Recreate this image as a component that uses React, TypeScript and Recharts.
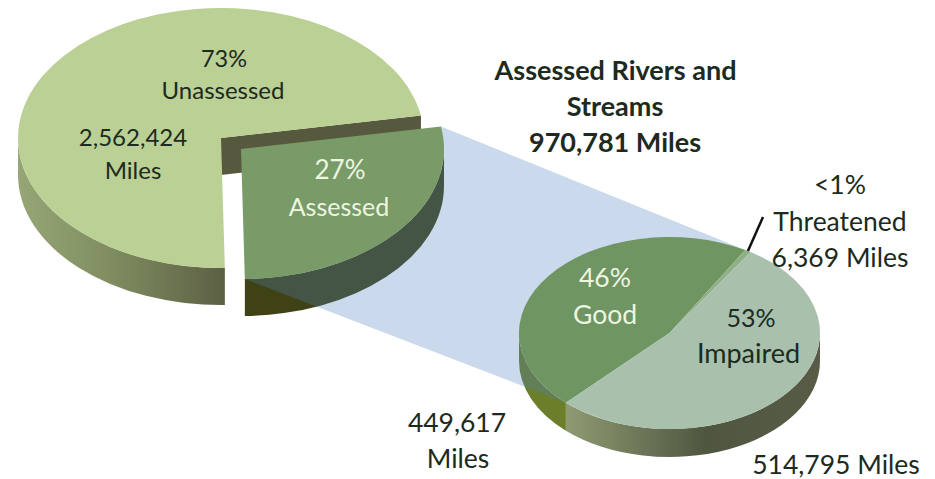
import { PieChart, Pie } from 'recharts'

const overallNames = ['Assessed', 'Unassessed']
const overallMiles = [970781, 2562424]
const assessedNames = ['Good', 'Threatened', 'Impaired']
const assessedMiles = [449617, 6369, 514795]

const overallData = overallNames.map((name, i) => ({ name, miles: overallMiles[i] }))
const assessedData = assessedNames.map((name, i) => ({ name, miles: assessedMiles[i] }))

const FONT = 'Lato, sans-serif'
const DARK = '#1c2a20'
const LIGHT = '#eef6e2'

const BIG = { cx: 221, cy: 138, rx: 203, ry: 130, depth: 37, start: 10 }
const SMALL = { cx: 669.5, cy: 333, rx: 150.5, ry: 96, depth: 28, start: 226.5 }
// the pulled-out slice of the big pie
const EXPLODE = { x: 20, y: 11 }

const TOP_FILL: Record<string, string> = {
  Unassessed: '#bad094',
  Assessed: '#789b67',
  Good: '#6f9562',
  Threatened: '#8eb184',
  Impaired: '#a8c0ac',
}
const WALL_FILL: Record<string, string> = {
  Unassessed: 'url(#wallUnassessed)',
  Assessed: '#3f4214',
  Good: '#6b7f2b',
  Threatened: '#59603f',
  Impaired: 'url(#wallImpaired)',
}

type Disc = typeof BIG

const pointAt = (d: Disc, angle: number, dx = 0, dy = 0) => {
  const rad = (angle * Math.PI) / 180
  return { x: d.cx + dx + d.rx * Math.cos(rad), y: d.cy + dy - d.ry * Math.sin(rad) }
}

const shift = (name: string) => (name === 'Assessed' ? EXPLODE : { x: 0, y: 0 })

const sum = (xs: number[]) => xs.reduce((a, b) => a + b, 0)
const sweep = (part: number, xs: number[]) => (360 * part) / sum(xs)

const assessedEnd = BIG.start - sweep(overallMiles[0], overallMiles)
const goodEnd = SMALL.start - sweep(assessedMiles[0], assessedMiles)
const threatMid = goodEnd - sweep(assessedMiles[1], assessedMiles) / 2

// band tying the slice to its breakdown
const bandPoints = [
  pointAt(BIG, BIG.start, EXPLODE.x, EXPLODE.y),
  pointAt(SMALL, goodEnd),
  pointAt(SMALL, SMALL.start),
  pointAt(BIG, assessedEnd, EXPLODE.x, EXPLODE.y),
]
  .map(p => `${p.x},${p.y}`)
  .join(' ')

const leaderStart = pointAt(SMALL, threatMid)

// flat top of a slice, as an elliptical wedge
const topShape = (d: Disc) => (props: any) => {
  const { name, startAngle, endAngle } = props
  const o = shift(name)
  const a = pointAt(d, startAngle, o.x, o.y)
  const b = pointAt(d, endAngle, o.x, o.y)
  const large = Math.abs(startAngle - endAngle) > 180 ? 1 : 0
  return (
    <g>
      {name === 'Assessed' && <polygon points={bandPoints} fill="#4f81bd" fillOpacity={0.3} />}
      <path
        d={`M${d.cx + o.x},${d.cy + o.y}L${a.x},${a.y}A${d.rx},${d.ry} 0 ${large} 1 ${b.x},${b.y}Z`}
        fill={TOP_FILL[name]}
      />
    </g>
  )
}

// rim of a slice: only the part of the arc on the near half of the disc shows
const wallShape = (d: Disc) => (props: any) => {
  const { name, startAngle, endAngle } = props
  const o = shift(name)
  const paths: string[] = []
  for (const k of [-1, 0, 1]) {
    const hi = Math.min(startAngle, 360 * k)
    const lo = Math.max(endAngle, 360 * k - 180)
    if (hi <= lo) continue
    const a = pointAt(d, hi, o.x, o.y)
    const b = pointAt(d, lo, o.x, o.y)
    paths.push(
      `M${a.x},${a.y}A${d.rx},${d.ry} 0 0 1 ${b.x},${b.y}L${b.x},${b.y + d.depth}A${d.rx},${d.ry} 0 0 0 ${a.x},${a.y + d.depth}Z`,
    )
  }
  let cut = null
  if (name === 'Unassessed') {
    // cut face left open where the slice was pulled out
    const e = pointAt(d, endAngle)
    cut = (
      <path
        d={`M${d.cx},${d.cy}L${e.x},${e.y}L${e.x},${e.y + d.depth}L${d.cx},${d.cy + d.depth}Z`}
        fill="#57593e"
      />
    )
  }
  return (
    <g>
      {cut}
      {paths.map(p => (
        <path key={p} d={p} fill={WALL_FILL[name]} />
      ))}
    </g>
  )
}

const fmt = (n: number) => n.toLocaleString('en-US')
const pct = (part: number, xs: number[]) => `${Math.round((100 * part) / sum(xs))}%`

const Txt = ({ x, y, fill = DARK, bold = false, size = 26.5, children }: any) => (
  <text
    x={x}
    y={y}
    textAnchor="middle"
    fontFamily={FONT}
    fontSize={bold ? 27 : size}
    fontWeight={bold ? 700 : 400}
    fill={fill}
  >
    {children}
  </text>
)

const sliceLabel = (props: any) => {
  switch (props.name) {
    case 'Unassessed':
      return (
        <g>
          <Txt x={224} y={67} size={23.5}>{pct(overallMiles[1], overallMiles)}</Txt>
          <Txt x={223} y={99} size={24}>{overallNames[1]}</Txt>
          <Txt x={133} y={146} size={24}>{fmt(overallMiles[1])}</Txt>
          <Txt x={133} y={179} size={24}>Miles</Txt>
        </g>
      )
    case 'Assessed':
      return (
        <g>
          <Txt x={340} y={179} fill={LIGHT} size={26}>{pct(overallMiles[0], overallMiles)}</Txt>
          <Txt x={339} y={216} fill={LIGHT} size={25}>{overallNames[0]}</Txt>
        </g>
      )
    case 'Good':
      return (
        <g>
          <Txt x={605} y={287} fill={LIGHT}>{pct(assessedMiles[0], assessedMiles)}</Txt>
          <Txt x={605} y={324} fill={LIGHT}>{assessedNames[0]}</Txt>
          <Txt x={457} y={432}>{fmt(assessedMiles[0])}</Txt>
          <Txt x={458} y={468}>Miles</Txt>
        </g>
      )
    case 'Threatened':
      return (
        <g>
          <line x1={leaderStart.x} y1={leaderStart.y} x2={763} y2={217} stroke="#111" strokeWidth={2.5} />
          <Txt x={840} y={194}>&lt;1%</Txt>
          <Txt x={840} y={231}>{assessedNames[1]}</Txt>
          <Txt x={840} y={267}>{fmt(assessedMiles[1])} Miles</Txt>
        </g>
      )
    default:
      return (
        <g>
          <Txt x={751} y={327} size={25}>{pct(assessedMiles[2], assessedMiles)}</Txt>
          <Txt x={748.5} y={363} size={27}>{assessedNames[2]}</Txt>
          <Txt x={836} y={474}>{fmt(assessedMiles[2])} Miles</Txt>
        </g>
      )
  }
}

const pieProps = { dataKey: 'miles', nameKey: 'name', stroke: 'none', isAnimationActive: false }

export default function App() {
  return (
    <div style={{ position: 'absolute', left: 0, top: 0, width: 935, height: 479, background: '#fff' }}>
      <PieChart width={935} height={479} margin={{ top: 0, right: 0, bottom: 0, left: 0 }}>
        <defs>
          <linearGradient id="wallUnassessed" gradientUnits="userSpaceOnUse" x1={18} y1={0} x2={224} y2={0}>
            <stop offset="0" stopColor="#97a676" />
            <stop offset="0.45" stopColor="#7f8d60" />
            <stop offset="1" stopColor="#5c6044" />
          </linearGradient>
          <linearGradient id="wallImpaired" gradientUnits="userSpaceOnUse" x1={566} y1={0} x2={820} y2={0}>
            <stop offset="0" stopColor="#8f9b72" />
            <stop offset="0.55" stopColor="#4f5640" />
            <stop offset="1" stopColor="#585c46" />
          </linearGradient>
        </defs>

        <Pie
          {...pieProps}
          data={overallData}
          cx={BIG.cx}
          cy={BIG.cy}
          outerRadius={BIG.rx}
          startAngle={BIG.start}
          endAngle={BIG.start - 360}
          shape={wallShape(BIG)}
        />
        <Pie
          {...pieProps}
          data={assessedData}
          cx={SMALL.cx}
          cy={SMALL.cy}
          outerRadius={SMALL.rx}
          startAngle={SMALL.start}
          endAngle={SMALL.start - 360}
          shape={wallShape(SMALL)}
        />
        <Pie
          {...pieProps}
          data={overallData}
          cx={BIG.cx}
          cy={BIG.cy}
          outerRadius={BIG.rx}
          startAngle={BIG.start}
          endAngle={BIG.start - 360}
          shape={topShape(BIG)}
          label={sliceLabel}
          labelLine={false}
        />
        <Pie
          {...pieProps}
          data={assessedData}
          cx={SMALL.cx}
          cy={SMALL.cy}
          outerRadius={SMALL.rx}
          startAngle={SMALL.start}
          endAngle={SMALL.start - 360}
          shape={topShape(SMALL)}
          label={sliceLabel}
          labelLine={false}
        />

        <Txt x={615.5} y={80} bold>Assessed Rivers and</Txt>
        <Txt x={615} y={116} bold>Streams</Txt>
        <Txt x={615} y={152} bold>{fmt(sum(assessedMiles))} Miles</Txt>
      </PieChart>
    </div>
  )
}
